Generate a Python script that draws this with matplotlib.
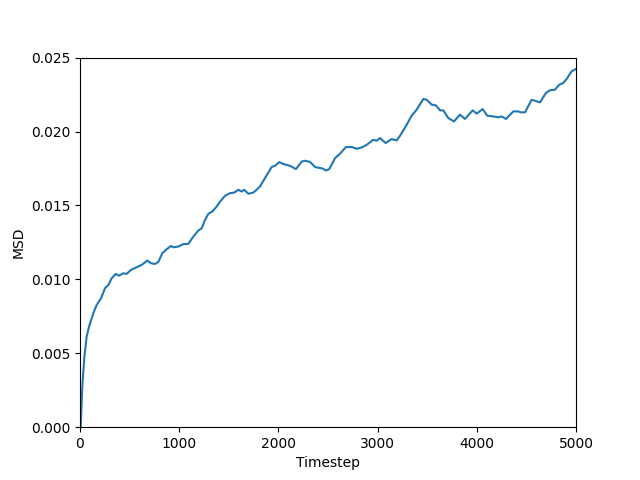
import matplotlib
matplotlib.use("Agg")
import matplotlib.pyplot as plt

timestep = [0, 7, 23, 44, 67, 91, 134, 168, 212, 252, 286, 319, 360, 393, 437,
            470, 514, 571, 622, 679, 716, 756, 790, 830, 874, 917, 941, 991,
            1041, 1092, 1142, 1193, 1227, 1260, 1294, 1334, 1378, 1421, 1462,
            1512, 1555, 1596, 1629, 1656, 1697, 1747, 1781, 1814, 1865, 1932,
            1966, 2009, 2049, 2117, 2177, 2235, 2268, 2318, 2369, 2419, 2446,
            2480, 2513, 2571, 2621, 2681, 2739, 2789, 2839, 2890, 2956, 2991,
            3024, 3081, 3142, 3192, 3226, 3293, 3343, 3394, 3461, 3495, 3545,
            3588, 3629, 3662, 3713, 3770, 3830, 3881, 3958, 3999, 4059, 4106,
            4166, 4217, 4251, 4294, 4368, 4418, 4442, 4486, 4553, 4637, 4697,
            4738, 4788, 4832, 4872, 4906, 4956, 5000]
msd = [0.0, 0.0, 0.00273, 0.00476, 0.00612, 0.0068, 0.0077, 0.00827, 0.00872,
       0.0094, 0.00962, 0.01007, 0.01037, 0.01025, 0.01041, 0.01037, 0.01064,
       0.01082, 0.01098, 0.01127, 0.01109, 0.01104, 0.01118, 0.01177, 0.01204,
       0.01226, 0.01217, 0.01222, 0.01238, 0.0124, 0.01289, 0.0133, 0.01346,
       0.01402, 0.01443, 0.01459, 0.01493, 0.01533, 0.01565, 0.01583, 0.01587,
       0.01606, 0.01594, 0.01606, 0.01579, 0.01587, 0.01606, 0.01628, 0.01685,
       0.0176, 0.01768, 0.01793, 0.0178, 0.01768, 0.01746, 0.01797, 0.01802,
       0.01795, 0.0176, 0.01753, 0.0175, 0.01736, 0.01746, 0.0182, 0.0185,
       0.01895, 0.01895, 0.01883, 0.01892, 0.0191, 0.01944, 0.01938, 0.01956,
       0.01922, 0.01949, 0.0194, 0.01971, 0.02046, 0.02107, 0.02148, 0.0222,
       0.02215, 0.02182, 0.02177, 0.02143, 0.02143, 0.02091, 0.02068, 0.02114,
       0.02085, 0.02143, 0.02121, 0.02152, 0.02107, 0.02102, 0.02096, 0.02102,
       0.02085, 0.02136, 0.02136, 0.0213, 0.0213, 0.02215, 0.02197, 0.02261,
       0.02279, 0.02283, 0.02317, 0.02329, 0.02356, 0.02407, 0.02423]

plt.figure(figsize=(6.4, 4.8), dpi=100)
plt.plot(timestep, msd)
plt.xlim(0, 5000)
plt.ylim(0, 0.025)
plt.xlabel("Timestep")
plt.ylabel("MSD")
plt.savefig("out.png")
